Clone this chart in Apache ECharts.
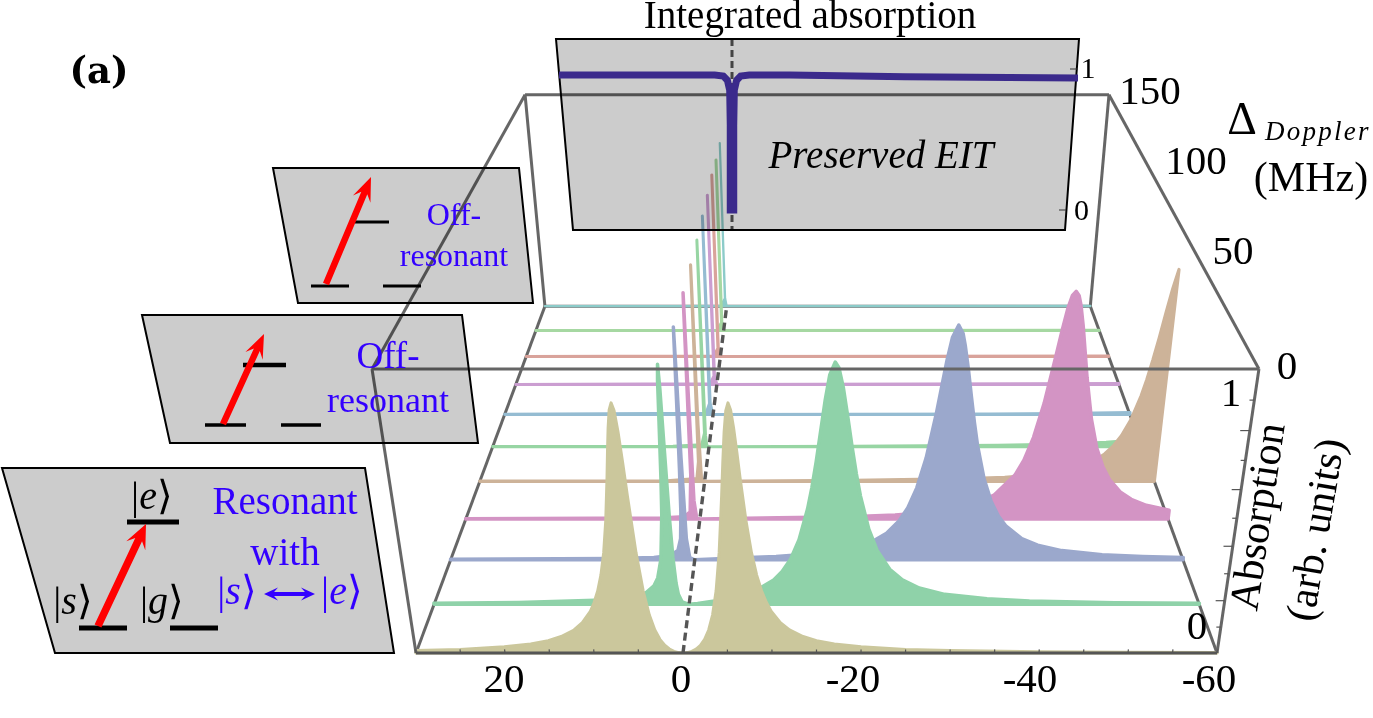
<!DOCTYPE html>
<html><head><meta charset="utf-8">
<style>html,body{margin:0;padding:0;background:#fff;overflow:hidden}#c{width:1373px;height:718px}</style>
<script src="https://cdn.jsdelivr.net/npm/echarts@6/dist/echarts.min.js"></script>
</head><body><div id="c"></div>
<script>
// ---------- data ----------
const dopplerRows = [0,15,30,45,60,75,90,105,120,135,150];
const detuning0  = [30,25,20,17,15,13.5,12,11,10,9.5,9,8.5,8,7.5,7,6.75,6.5,6.25,6,5.75,5.5,5.25,5,4.5,4,3.5,3,2.5,2,1.5,1,.5,0,
                    -.5,-1,-1.5,-2,-2.5,-3,-3.5,-4,-4.5,-5,-5.25,-5.5,-5.75,-6,-6.25,-6.5,-6.75,-7,-7.5,-8,-8.5,-9,-9.5,-10,-11,-12,-13.5,-15,-17,-20,-25,-30,-40,-50,-60];
const absorb0    = [.0095,.014,.024,.035,.048,.064,.089,.117,.16,.193,.236,.295,.377,.492,.644,.729,.808,.868,.891,.866,.795,.693,.579,.377,.236,.146,.089,.053,.03,.0155,.0065,.0016,0,
                    .0016,.0065,.0155,.03,.053,.089,.146,.236,.377,.579,.693,.795,.866,.891,.868,.808,.729,.644,.492,.377,.295,.236,.193,.16,.117,.089,.064,.048,.035,.024,.014,.0095,.0052,.0033,.0023];
const detuning15 = [30,20,10,8,6,5,4,3.5,3,2.6,2.45,2.3,2.2,2.1,2,1.9,1.75,1.6,1.4,1.2,.8,0,-1,-3,-5,-6.5,-8,-10,-11,-12,-13,-14,-14.5,-15,-15.5,-16,-16.5,-17.1,-17.5,-18,-18.5,-19,-19.5,-20,-21,-22,-23.5,-25,-27,-30,-35,-40,-50,-60];
const absorb15   = [.0042,.0072,.0172,.023,.034,.046,.074,.105,.178,.347,.483,.684,.827,.884,.802,.608,.34,.183,.084,.04,.0093,0,.0032,.0137,.026,.039,.057,.097,.13,.178,.253,.369,.448,.543,.651,.759,.847,.891,.872,.802,.702,.597,.5,.417,.293,.212,.139,.097,.065,.04,.022,.0136,.0068,.004];
const detuning30 = [30,10,5,3,2,1.6,1.4,1.3,1.25,1.16,1.1,1.05,.9,.6,0,-5,-10,-15,-19,-20.5,-22,-23.5,-25,-26,-27,-28,-29,-29.5,-30,-30.5,-31.16,-31.7,-32,-32.5,-33,-33.5,-34,-35,-36,-37,-38,-40,-42,-45,-50,-55,-60];
const absorb30   = [.0023,.006,.01,.018,.039,.087,.194,.364,.534,.884,.689,.41,.087,.009,0,.0077,.014,.026,.046,.059,.079,.109,.159,.211,.289,.405,.572,.67,.768,.847,.891,.861,.82,.733,.634,.539,.454,.324,.236,.177,.137,.087,.06,.038,.021,.0135,.0092];
const detuning45 = [30,5,2,1.2,.9,.8,.78,.75,.65,.4,0,-10,-15,-20,-25,-30,-33,-35,-37.5,-40,-41,-42,-43,-44,-44.5,-45,-45.4,-45.8,-46.2,-46.5,-47,-47.5,-48,-49,-50,-51,-52,-53.5,-55,-57,-60];
const absorb45   = [.0015,.0044,.0094,.03,.184,.83,.886,.57,.077,.004,0,.0053,.0076,.011,.017,.03,.044,.061,.1,.183,.244,.336,.47,.652,.748,.832,.876,.891,.875,.842,.762,.666,.57,.408,.293,.217,.164,.114,.083,.058,.037];
const detuning60 = [30,5,1,.7,.59,.55,.4,0,-20,-35,-40,-45,-48,-50,-52,-53,-54,-55,-56,-57,-57.5,-58,-58.5,-59,-59.5,-60];
const absorb60   = [.001,.0024,.0127,.085,.874,.24,.009,0,.0046,.0117,.018,.031,.047,.065,.095,.118,.15,.196,.262,.361,.427,.505,.594,.692,.784,.857];
const detuning75 = [30,5,1,.55,.476,.42,.3,0,-20,-40,-50,-55,-60];
const absorb75   = [.0008,.002,.008,.06,.86,.05,.005,0,.0017,.006,.012,.02,.032];
const detuning90 = [30,1,.45,.396,.35,0,-40,-50,-60];
const absorb90   = [.0005,.005,.05,.851,.05,0,.002,.004,.0085];
const detuning105= [30,1,.38,.34,.3,0,-60];
const absorb105  = [.0003,.003,.04,.836,.04,0,.0045];
const detuning120= [30,1,.33,.3,.27,0,-60];
const absorb120  = [.0003,.003,.04,.825,.04,0,.003];
const detuning135= [30,1,.29,.266,.24,0,-60];
const absorb135  = [.0002,.002,.04,.797,.04,0,.002];
const detuning150= [30,1,.26,.24,.22,0,-60];
const absorb150  = [.0002,.002,.04,.783,.04,0,.0015];
const insetDetuning = [30,10,3,1.5,.8,.4,.3,.3,-.3,-.3,-.4,-.8,-1.5,-3,-10,-30,-60];
const insetAbsorb   = [.957,.957,.957,.95,.92,.85,.6,0,0,.6,.85,.92,.95,.957,.957,.945,.936];
const detuningTickLabels = ['20','0','-20','-40','-60'];
const dopplerTickLabels = ['0','50','100','150'];
const absorptionTickLabels = ['0','1'];

const rowDetuning = [detuning0,detuning15,detuning30,detuning45,detuning60,detuning75,detuning90,detuning105,detuning120,detuning135,detuning150];
const rowAbsorb   = [absorb0,absorb15,absorb30,absorb45,absorb60,absorb75,absorb90,absorb105,absorb120,absorb135,absorb150];
const rowColors = ['#cbc79c','#8fd2a9','#9ba8cc','#d394c4','#cdb399','#97d5a3','#95bcd2','#cb9ed1','#d9a39b','#a6d8a2','#8ccbc9'];
const rowWidths = [3,3.5,3.5,3.5,3.2,3,3,3,3,3,2.2];

// ---------- perspective of the 3D box ----------
const K={c:.003124,e:-.09686,x0:683,sx:8.9,xH:820,yH:-434,vx:826,vy:3301,y0:653};
function project(det,d,a){
  const w=1+K.c*d+K.e*a;
  return [(K.x0-K.sx*det+K.xH*K.c*d+K.vx*K.e*a)/w,(K.y0+K.yH*K.c*d+K.vy*K.e*a)/w];
}
function segSeries(segs,style,z){
  return {type:'custom',coordinateSystem:'cartesian2d',xAxisIndex:0,yAxisIndex:0,silent:true,z,clip:false,
    data:segs.map(s=>[...project(...s[0]),...project(...s[1])]),encode:{x:[0,2],y:[1,3]},
    renderItem(p,api){const a=api.coord([api.value(0),api.value(1)]),b=api.coord([api.value(2),api.value(3)]);
      return {type:'line',shape:{x1:a[0],y1:a[1],x2:b[0],y2:b[1]},style:Object.assign({fill:null},style)};}};
}
const series=[];
// floor + back frame, behind the ridges
series.push(segSeries([
 [[30,0,0],[30,150,0]],[[-60,0,0],[-60,150,0]],[[30,150,0],[-60,150,0]],
 [[30,150,0],[30,150,1]],[[-60,150,0],[-60,150,1]],[[30,150,1],[-60,150,1]]
],{stroke:'#666',lineWidth:3},2));
// ridges, far row first
for(let i=dopplerRows.length-1;i>=0;i--){
  const d=dopplerRows[i];
  const pts=[project(rowDetuning[i][0],d,0)]
    .concat(rowDetuning[i].map((x,j)=>project(x,d,rowAbsorb[i][j])))
    .concat([project(-60,d,0)]);
  series.push({type:'custom',coordinateSystem:'cartesian2d',xAxisIndex:0,yAxisIndex:0,silent:true,clip:false,
    z:3+(10-i)*0.01,data:pts,encode:{x:0,y:1},
    renderItem(p,api){ if(p.dataIndex!==0) return null;
      return {type:'polygon',shape:{points:pts.map(q=>api.coord(q))},
        style:{fill:rowColors[i],stroke:rowColors[i],lineWidth:rowWidths[i],lineJoin:'round'}};}});
}
// front frame, over the ridges
const axisTicks=[]; for(let t=-60;t<=30;t+=5) axisTicks.push([[t,0,0],[t,0,.014]]);
const absTicks=[]; for(let t=1;t<=9;t++) absTicks.push([[-60,0,t/10],[t%2?-59.5:-59,0,t/10]]);
series.push(segSeries([
 [[30,0,1],[-60,0,1]],[[30,0,1],[30,150,1]],[[-60,0,1],[-60,150,1]],
 [[30,0,0],[30,0,1]],[[-60,0,0],[-60,0,1]]
],{stroke:'#666',lineWidth:3},5));
series.push(segSeries([[[30,0,0],[-60,0,0]]],{stroke:'#555',lineWidth:3},5));
series.push(segSeries(axisTicks.concat(absTicks),{stroke:'#555',lineWidth:1.2},5));
series.push(segSeries([[[0,0,0],[0,150,0]]],{stroke:'#555',lineWidth:3.4,lineDash:[8,4.5]},6));
// inset
series.push({type:'line',xAxisIndex:1,yAxisIndex:1,z:6,clip:false,silent:true,showSymbol:false,symbol:'none',
  data:[[0,1.213],[0,-.135]],lineStyle:{color:'#555',width:3,type:[7,4]}});
series.push({type:'line',xAxisIndex:1,yAxisIndex:1,z:12,clip:false,silent:true,showSymbol:false,symbol:'none',
  data:insetDetuning.map((x,i)=>[x,insetAbsorb[i]]),lineStyle:{color:'#3b2a8c',width:7,join:'miter',cap:'butt'}});

// ---------- diagram panels and text ----------
const serif='"Liberation Serif",serif', blue='#3300ff';
const g=[];
function panel(points){g.push({type:'polygon',z:10,silent:true,shape:{points},style:{fill:'rgba(0,0,0,0.2)',stroke:'#000',lineWidth:2}});}
function bar(x1,x2,y,w){g.push({type:'line',z:11,silent:true,shape:{x1,y1:y,x2,y2:y},style:{stroke:'#000',lineWidth:w}});}
function arrow(x1,y1,x2,y2,w,len,hw,color,both){
  const L=Math.hypot(x2-x1,y2-y1),ux=(x2-x1)/L,uy=(y2-y1)/L,nx=-uy,ny=ux;
  const P=(t,s)=>[x1+ux*t+nx*s,y1+uy*t+ny*s];
  const back=len*0.72;
  const pts=[];
  if(both){pts.push(P(0,0),P(len,hw),P(back,w/2));}else{pts.push(P(0,w/2));}
  pts.push(P(L-back,w/2),P(L-len,hw),P(L,0),P(L-len,-hw),P(L-back,-w/2));
  if(both){pts.push(P(back,-w/2),P(len,-hw));}else{pts.push(P(0,-w/2));}
  g.push({type:'polygon',z:12,silent:true,shape:{points:pts},style:{fill:color}});
}
function text(t,x,y,size,opt){
  opt=opt||{};
  g.push({type:'text',z:20,silent:true,x,y,rotation:opt.rot||0,style:{text:t,fill:opt.color||'#000',
    font:(opt.style||'')+' '+(opt.weight||'')+' '+size+'px '+(opt.family||serif),align:opt.align||'center',verticalAlign:'middle'}});
}
function ket(l,x,y,size,color){
  g.push({type:'text',z:20,silent:true,x,y,style:{text:'{r||}{i|'+l+'}{r|⟩}',align:'center',verticalAlign:'middle',
    rich:{r:{fontFamily:serif,fontSize:size,fill:color},i:{fontFamily:serif,fontStyle:'italic',fontSize:size,fill:color}}}});
}
panel([[2,468],[365,468],[394,653],[55,653]]);
panel([[142,315],[462,315],[478,443],[170,443]]);
panel([[273,168],[519,168],[533,303],[298,303]]);
panel([[556,39],[1079,39],[1065,230],[573,230]]);
bar(127,179,522,5);bar(79,127,628,5);bar(170,218,628,5);
bar(243,286,365,4.5);bar(205,246,425,3.5);bar(281,321,425,3.5);
bar(355,389,222,3);bar(311,349,286,3);bar(383,421,286,3);
arrow(98,626,146,524,7.5,24,10.5,'#ff0000');
arrow(223,424,264,334,6.5,24,9.5,'#ff0000');
arrow(326,284,371,177,6.5,24,9.5,'#ff0000');
arrow(264,594,315,594,4.2,14,6.5,blue,true);
g.push({type:'line',z:11,silent:true,shape:{x1:1070,y1:69,x2:1078,y2:69},style:{stroke:'#333',lineWidth:1}});
g.push({type:'line',z:11,silent:true,shape:{x1:1059,y1:210,x2:1066,y2:210},style:{stroke:'#333',lineWidth:1}});

text('Integrated absorption',810,18,39);
text('(a)',99,73,37,{weight:'bold',family:'"DejaVu Serif",serif'});
text('Preserved EIT',881,158,39,{style:'italic'});
text('1',1088,70,30);text('0',1081.5,212,30);
text('Resonant',285,504,39,{color:blue});
text('with',285,555,39,{color:blue});
text('Off-',388,358,37,{color:blue});
text('resonant',388,403,36,{color:blue});
text('Off-',454,217,32,{color:blue});
text('resonant',454,258,32,{color:blue});
ket('e',152,498,40,'#000');ket('s',73,603,40,'#000');ket('g',162,603,40,'#000');
ket('s',237,593,40,blue);ket('e',342,593,40,blue);
[504,681,853,1030,1209].forEach((x,i)=>text(detuningTickLabels[i],x,681,41));
[[1287,368],[1233,253],[1196,163],[1150,93]].forEach((p,i)=>text(dopplerTickLabels[i],p[0],p[1],41));
text(absorptionTickLabels[0],1197,628,41);text(absorptionTickLabels[1],1231,395,41);
text('Absorption',1260,517,42,{rot:Math.PI/2-.148});
text('(arb. units)',1318,530,42,{rot:Math.PI/2-.17});
text('Δ',1242,122,46);
text('D\u200Ao\u200Ap\u200Ap\u200Al\u200Ae\u200Ar',1265,133,27,{style:'italic',align:'left'});
text('(MHz)',1311,180,42);

const chart=echarts.init(document.getElementById('c'),null,{width:1373,height:718,renderer:'canvas'});
chart.setOption({animation:false,backgroundColor:'#fff',
  grid:[{left:0,top:0,width:1373,height:718,containLabel:false},{left:559,top:69,width:519,height:141,containLabel:false}],
  xAxis:[{type:'value',min:0,max:1373,show:false,gridIndex:0},{type:'value',min:-60,max:30,inverse:true,show:false,gridIndex:1}],
  yAxis:[{type:'value',min:0,max:718,inverse:true,show:false,gridIndex:0},{type:'value',min:0,max:1,show:false,gridIndex:1}],
  series,graphic:{elements:g}});
</script></body></html>
